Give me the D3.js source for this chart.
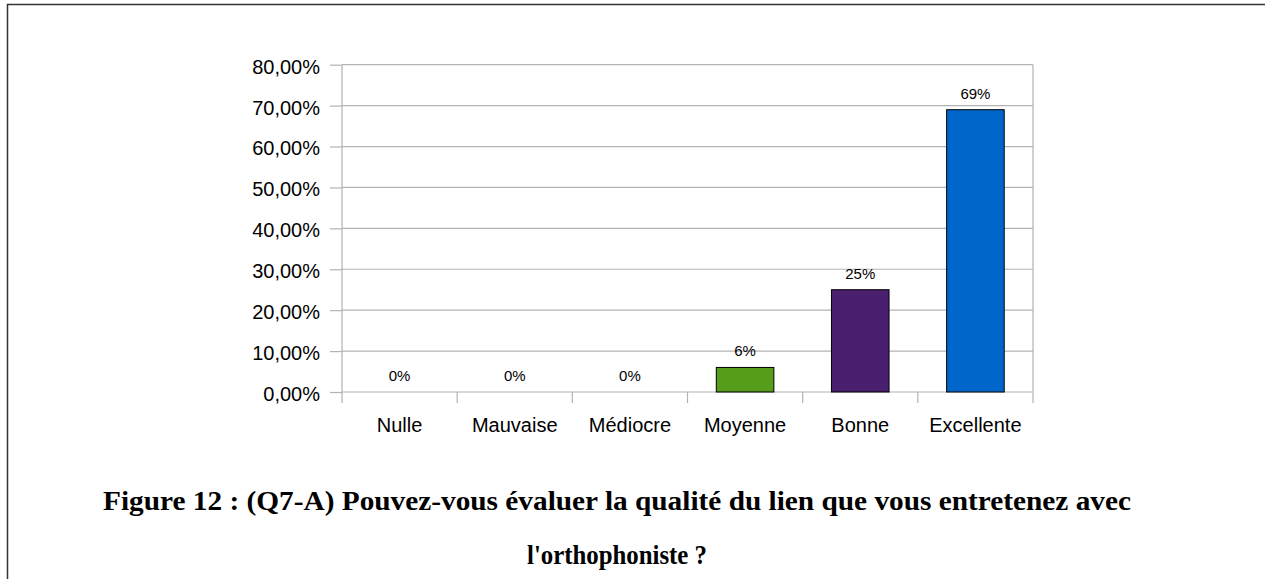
<!DOCTYPE html>
<html>
<head>
<meta charset="utf-8">
<script src="https://cdn.jsdelivr.net/npm/d3@7"></script>
<style>
  body { margin: 0; background: #fff; }
  .axis-text { font-family: "Liberation Sans", Arial, sans-serif; font-size: 20px; fill: #000; }
  .value-text { font-family: "Liberation Sans", Arial, sans-serif; font-size: 15px; fill: #000; }
  .title-text { font-family: "Liberation Serif", "Times New Roman", serif; font-weight: bold; font-size: 28px; fill: #000; }
</style>
</head>
<body>
<div id="canvas"></div>
<script>
// categories and values
const categories = ["Nulle", "Mauvaise", "Médiocre", "Moyenne", "Bonne", "Excellente"];
const values = [0, 0, 0, 0.06, 0.25, 0.69];
const valueLabels = ["0%", "0%", "0%", "6%", "25%", "69%"];
const barColors = [null, null, null, "#579d1c", "#4b1f6f", "#0066cc"];
const yTicks = [0, 0.1, 0.2, 0.3, 0.4, 0.5, 0.6, 0.7, 0.8];
const titleLines = [
    "Figure 12 : (Q7-A) Pouvez-vous évaluer la qualité du lien que vous entretenez avec",
    "l'orthophoniste ?"
];

const W = 1265, H = 579;
const margin = {top: 64.7, right: 232, bottom: 187, left: 342},
    width = W - margin.left - margin.right,
    height = H - margin.top - margin.bottom;

const root = d3.select("#canvas")
    .append("svg")
    .attr("width", W)
    .attr("height", H);

// page frame (top and left edges only)
root.append("path")
    .attr("d", "M7.5," + H + " V4.5 H" + W)
    .attr("fill", "none")
    .attr("stroke", "#333")
    .attr("stroke-width", 1.5);

const svg = root.append("g")
    .attr("transform", "translate(" + margin.left + "," + margin.top + ")");

const xScale = d3.scaleBand()
    .range([0, width])
    .domain(categories);

const yScale = d3.scaleLinear()
    .range([height, 0])
    .domain([0, 0.8]);

const gridColor = "#b3b3b3";

// horizontal grid lines
svg.append("g")
    .selectAll("line")
    .data(yTicks)
    .enter()
    .append("line")
    .attr("x1", 0)
    .attr("x2", width)
    .attr("y1", d => yScale(d))
    .attr("y2", d => yScale(d))
    .attr("stroke", gridColor)
    .attr("stroke-width", 1.2);

// right border of plot area
svg.append("line")
    .attr("x1", width).attr("x2", width)
    .attr("y1", 0).attr("y2", height)
    .attr("stroke", gridColor)
    .attr("stroke-width", 1.2);

// y axis
const fmt = d => d3.format(".2f")(d * 100).replace(".", ",") + "%";
const yAxis = svg.append("g")
    .call(d3.axisLeft(yScale).tickValues(yTicks).tickSize(12).tickPadding(10).tickFormat(fmt));
yAxis.selectAll("line, path").attr("stroke", gridColor).attr("stroke-width", 1.2);
yAxis.select(".domain").attr("d", "M0,0V" + height);
yAxis.selectAll("text")
    .attr("class", "axis-text")
    .attr("dy", "0.42em");
yAxis.attr("font-size", null).attr("font-family", null);

// x axis ticks at category boundaries
const boundaries = d3.range(categories.length + 1).map(i => i * xScale.step());
svg.append("g")
    .selectAll("line")
    .data(boundaries)
    .enter()
    .append("line")
    .attr("x1", d => d).attr("x2", d => d)
    .attr("y1", height).attr("y2", height + 11)
    .attr("stroke", gridColor)
    .attr("stroke-width", 1.2);

svg.append("g")
    .selectAll("text")
    .data(categories)
    .enter()
    .append("text")
    .attr("class", "axis-text")
    .attr("text-anchor", "middle")
    .attr("x", d => xScale(d) + xScale.bandwidth() / 2)
    .attr("y", height + 40)
    .text(d => d);

// bars
const barW = xScale.bandwidth() * 0.5;
svg.selectAll(".bar")
    .data(categories)
    .enter()
    .append("rect")
    .attr("class", "bar")
    .attr("x", d => xScale(d) + (xScale.bandwidth() - barW) / 2)
    .attr("y", (d, i) => yScale(values[i]))
    .attr("width", barW)
    .attr("height", (d, i) => height - yScale(values[i]))
    .attr("fill", (d, i) => barColors[i] || "none")
    .attr("stroke", (d, i) => values[i] > 0 ? "#000" : "none")
    .attr("stroke-width", 1);

// value labels
svg.selectAll(".val")
    .data(categories)
    .enter()
    .append("text")
    .attr("class", "value-text")
    .attr("text-anchor", "middle")
    .attr("x", d => xScale(d) + xScale.bandwidth() / 2)
    .attr("y", (d, i) => yScale(values[i]) - 11)
    .text((d, i) => valueLabels[i]);

// caption
root.append("text")
    .attr("class", "title-text")
    .attr("text-anchor", "middle")
    .attr("x", 617)
    .attr("y", 510)
    .attr("textLength", 1028)
    .attr("lengthAdjust", "spacingAndGlyphs")
    .text(titleLines[0]);

root.append("text")
    .attr("class", "title-text")
    .attr("text-anchor", "middle")
    .attr("x", 617)
    .attr("y", 564)
    .attr("textLength", 180)
    .attr("lengthAdjust", "spacingAndGlyphs")
    .text(titleLines[1]);
</script>
</body>
</html>
